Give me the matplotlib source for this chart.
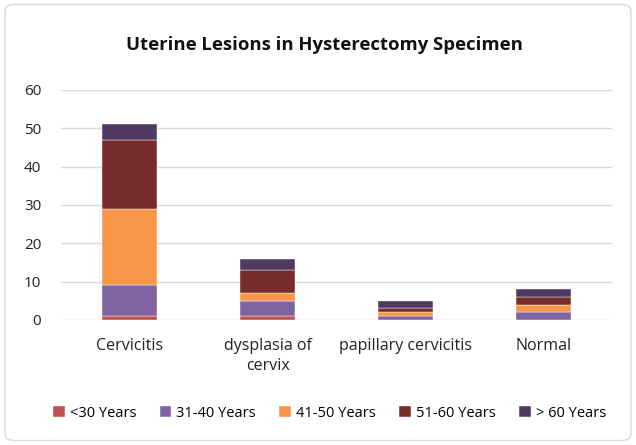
import matplotlib
matplotlib.use("Agg")
import matplotlib.pyplot as plt
from matplotlib.patches import FancyBboxPatch
import numpy as np

categories = ["Cervicitis", "dysplasia of\ncervix", "papillary cervicitis", "Normal"]
series_names = ["<30 Years", "31-40 Years", "41-50 Years", "51-60 Years", "> 60 Years"]
lt30 = [1, 1, 0, 0]
y31_40 = [8, 4, 1, 2]
y41_50 = [20, 2, 1, 2]
y51_60 = [18, 6, 1, 2]
gt60 = [4, 3, 2, 2]
colors = ["#C0504D", "#8064A2", "#F79646", "#772C2A", "#4F3B62"]

plt.rcParams['font.family'] = ['Open Sans', 'DejaVu Sans']

fig = plt.figure(figsize=(6.36, 4.45), dpi=100)
ax = fig.add_axes([0.0955, 0.281, 0.867, 0.517])

x = np.arange(len(categories))
bottom = np.zeros(len(categories))
for vals, name, c in zip([lt30, y31_40, y41_50, y51_60, gt60], series_names, colors):
    ax.bar(x, vals, width=0.4, bottom=bottom, color=c, label=name,
           edgecolor="white", linewidth=0.3, zorder=3)
    bottom += np.array(vals)

ax.set_ylim(0, 60)
ax.set_yticks(range(0, 61, 10))
ax.set_xlim(-0.5, len(categories) - 0.5)
ax.set_xticks(x)
ax.set_xticklabels(categories, fontsize=11.5, color="#222222", linespacing=1.35)
ax.tick_params(axis='y', labelsize=11, colors="#222222", length=0, pad=14)
ax.tick_params(axis='x', length=0, pad=13)
ax.grid(axis='y', color="#D9D9D9", linewidth=1, zorder=0)
for s in ax.spines.values():
    s.set_visible(False)

fig.text(0.51, 0.898, "Uterine Lesions in Hysterectomy Specimen", ha="center", va="center",
         fontsize=13.3, fontweight="bold", color="#111111")

handles, labels = ax.get_legend_handles_labels()
fig.legend(handles, labels, loc="center", bbox_to_anchor=(0.518, 0.071), ncol=5,
           frameon=False, fontsize=10.5, handlelength=0.8, handleheight=0.8,
           handletextpad=0.35, columnspacing=1.6)

border = FancyBboxPatch((0.008, 0.01), 0.984, 0.98, boxstyle="round,pad=0,rounding_size=0.015",
                        transform=fig.transFigure, fill=False, edgecolor="#D9D9D9", linewidth=1)
fig.patches.append(border)

fig.savefig("out.png", dpi=100)
